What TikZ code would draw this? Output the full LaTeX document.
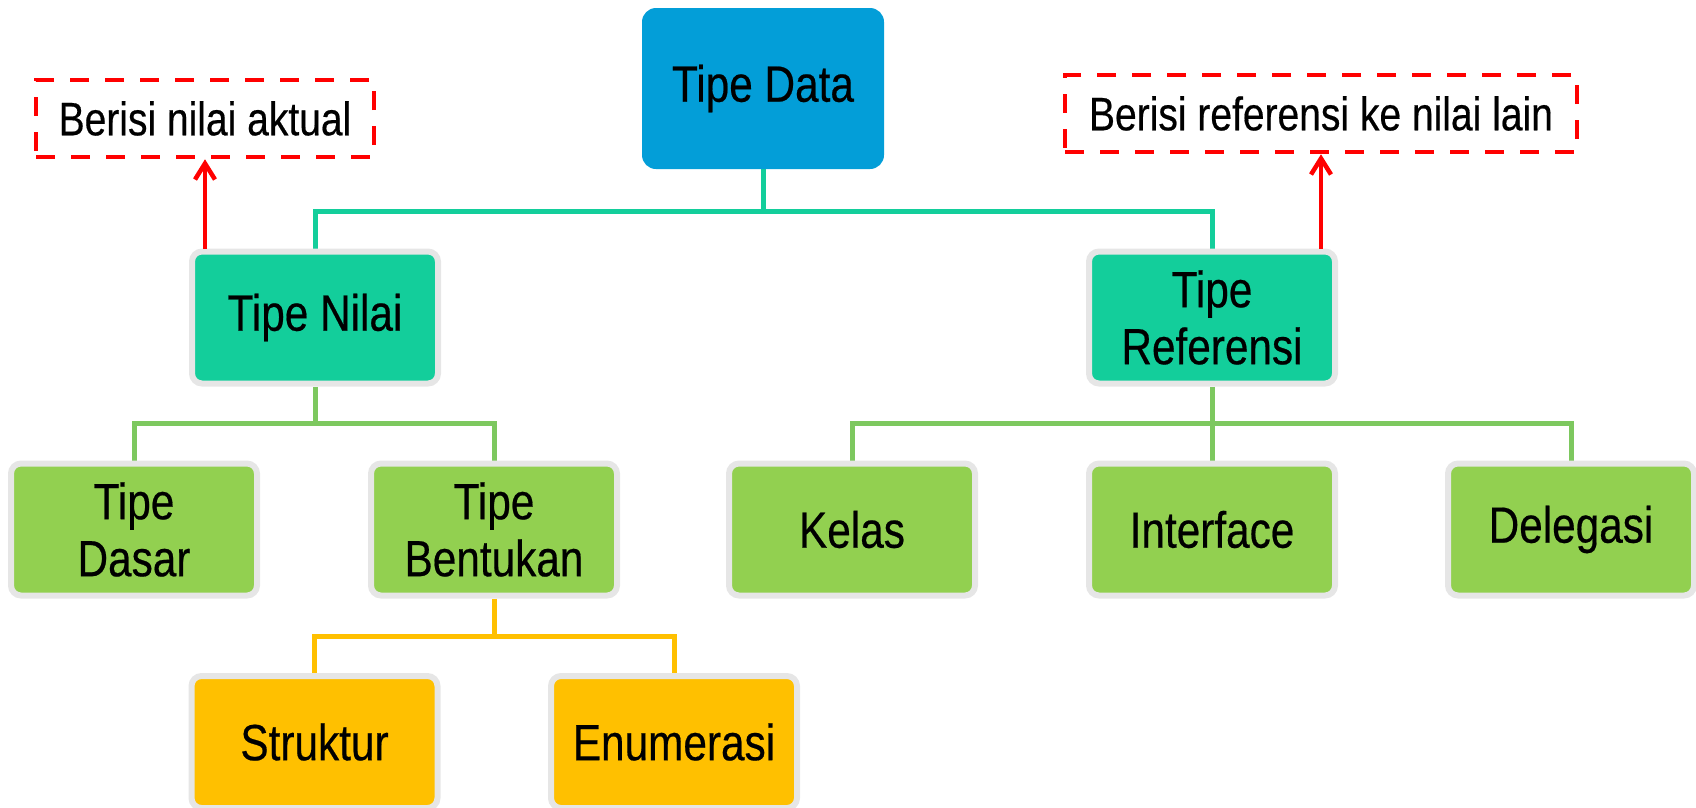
\documentclass[tikz,border=0pt]{standalone}
\usepackage{fontspec}
\setmainfont[FakeStretch=0.83,FakeBold=0.4]{Liberation Sans}
\usetikzlibrary{arrows.meta}
\definecolor{tdblue}{RGB}{3,158,216}
\definecolor{tdteal}{RGB}{19,206,155}
\definecolor{tdgreen}{RGB}{146,208,80}
\definecolor{tdgreenline}{RGB}{125,200,95}
\definecolor{tdorange}{RGB}{255,192,0}
\definecolor{tdgray}{RGB}{230,230,230}
\definecolor{tdred}{RGB}{255,0,0}
\pgfdeclarelayer{bg}
\pgfsetlayers{bg,main}
\begin{document}
\begin{tikzpicture}[x=1pt,y=-1pt,
  boxnode/.style={rounded corners=10pt, draw=tdgray, line width=6pt,
    minimum width=246pt, minimum height=132pt, align=center, inner sep=0pt,
    text=black, font=\fontsize{51}{57}\selectfont},
  tealbox/.style={boxnode, fill=tdteal},
  greenbox/.style={boxnode, fill=tdgreen},
  orangebox/.style={boxnode, fill=tdorange},
  topbox/.style={rounded corners=14pt, fill=tdblue, minimum width=242pt,
    minimum height=161pt, inner sep=0pt, font=\fontsize{51}{57}\selectfont},
  notebox/.style={draw=tdred, line width=4.5pt, dash pattern=on 19pt off 16pt,
    minimum height=77pt, inner sep=0pt, font=\fontsize{47}{52}\selectfont},
  tealline/.style={draw=tdteal, line width=5pt},
  greenline/.style={draw=tdgreenline, line width=5pt},
  orangeline/.style={draw=tdorange, line width=5pt},
  redarrow/.style={draw=tdred, line width=4.5pt, -{Straight Barb[length=16pt,width=20pt]}}
]
\useasboundingbox (0,0) rectangle (1696,807);

\node[topbox] (data) at (763,88.5) {Tipe Data};
\node[tealbox] (nilai) at (315,317.5) {Tipe Nilai};
\node[tealbox] (ref) at (1212,317.5) {Tipe\\Referensi};
\node[greenbox] (dasar) at (134,529.5) {Tipe\\Dasar};
\node[greenbox] (bentukan) at (494,529.5) {Tipe\\Bentukan};
\node[greenbox] (kelas) at (852,529.5) {Kelas};
\node[greenbox] (interface) at (1212,529.5) {Interface};
\node[greenbox] (delegasi) at (1571,529.5) {Delegasi};
\node[orangebox] (struktur) at (314.5,742) {Struktur};
\node[orangebox] (enumerasi) at (674,742) {Enumerasi};

\node[notebox, minimum width=338pt] (note1) at (205,118.5) {Berisi nilai aktual};
\node[notebox, minimum width=512pt] (note2) at (1321,113.5) {Berisi referensi ke nilai lain};

\coordinate (bus1) at (763,211);
\coordinate (bus2) at (315,423);
\coordinate (bus3) at (1212,423);
\coordinate (bus4) at (494,636);

\begin{pgfonlayer}{bg}
\draw[tealline] (data.south) -- (bus1);
\draw[tealline] (nilai.north) |- (bus1) -| (ref.north);
\draw[greenline] (nilai.south) -- (bus2);
\draw[greenline] (dasar.north) |- (bus2) -| (bentukan.north);
\draw[greenline] (ref.south) -- (bus3) -- (interface.north);
\draw[greenline] (kelas.north) |- (bus3) -| (delegasi.north);
\draw[orangeline] (bentukan.south) -- (bus4);
\draw[orangeline] (struktur.north) |- (bus4) -| (enumerasi.north);
\end{pgfonlayer}

\draw[redarrow] (nilai.north -| note1.south) -- (note1.south);
\draw[redarrow] (ref.north -| note2.south) -- (note2.south);
\end{tikzpicture}
\end{document}
